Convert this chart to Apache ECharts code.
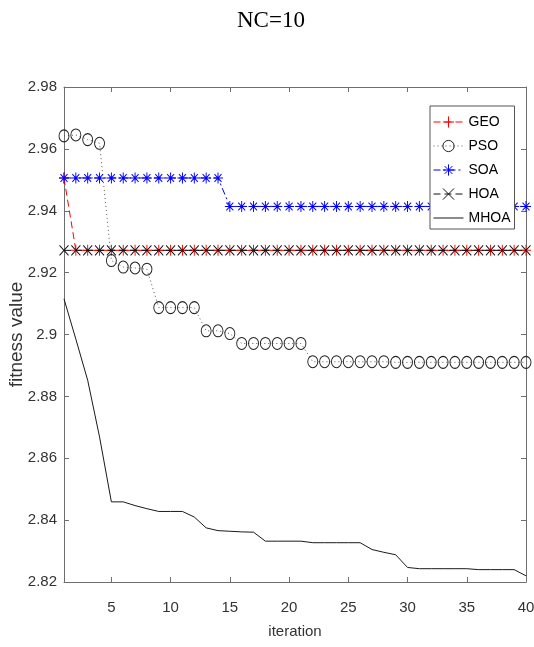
<!DOCTYPE html>
<html>
<head>
<meta charset="utf-8">
<script src="https://cdn.jsdelivr.net/npm/echarts@6/dist/echarts.min.js"></script>
<style>
html,body{margin:0;padding:0;background:#fff;}
#chart{width:534px;height:647px;}
</style>
</head>
<body>
<div id="chart"></div>
<script>
// ---- data ----
const iterations = [1,2,3,4,5,6,7,8,9,10,11,12,13,14,15,16,17,18,19,20,21,22,23,24,25,26,27,28,29,30,31,32,33,34,35,36,37,38,39,40];
const geo = [2.9506,2.9272,2.9272,2.9272,2.9272,2.9272,2.9272,2.9272,2.9272,2.9272,2.9272,2.9272,2.9272,2.9272,2.9272,2.9272,2.9272,2.9272,2.9272,2.9272,2.9272,2.9272,2.9272,2.9272,2.9272,2.9272,2.9272,2.9272,2.9272,2.9272,2.9272,2.9272,2.9272,2.9272,2.9272,2.9272,2.9272,2.9272,2.9272,2.9272];
const pso = [2.9642,2.9645,2.9630,2.9618,2.9239,2.9218,2.9215,2.9211,2.9087,2.9087,2.9087,2.9087,2.9012,2.9012,2.9003,2.8971,2.8971,2.8971,2.8971,2.8971,2.8971,2.8912,2.8912,2.8912,2.8912,2.8912,2.8912,2.8912,2.8910,2.8910,2.8910,2.8910,2.8910,2.8910,2.8910,2.8910,2.8910,2.8910,2.8910,2.8910];
const soa = [2.9506,2.9506,2.9506,2.9506,2.9506,2.9506,2.9506,2.9506,2.9506,2.9506,2.9506,2.9506,2.9506,2.9506,2.9414,2.9414,2.9414,2.9414,2.9414,2.9414,2.9414,2.9414,2.9414,2.9414,2.9414,2.9414,2.9414,2.9414,2.9414,2.9414,2.9414,2.9414,2.9414,2.9414,2.9414,2.9414,2.9414,2.9414,2.9414,2.9414];
const hoa = [2.9272,2.9272,2.9272,2.9272,2.9272,2.9272,2.9272,2.9272,2.9272,2.9272,2.9272,2.9272,2.9272,2.9272,2.9272,2.9272,2.9272,2.9272,2.9272,2.9272,2.9272,2.9272,2.9272,2.9272,2.9272,2.9272,2.9272,2.9272,2.9272,2.9272,2.9272,2.9272,2.9272,2.9272,2.9272,2.9272,2.9272,2.9272,2.9272,2.9272];
const mhoa = [2.9115,2.8985,2.8852,2.8669,2.8459,2.8459,2.8447,2.8437,2.8428,2.8428,2.8428,2.8410,2.8375,2.8366,2.8364,2.8362,2.8361,2.8332,2.8332,2.8332,2.8332,2.8327,2.8327,2.8327,2.8327,2.8327,2.8305,2.8296,2.8288,2.8247,2.8243,2.8243,2.8243,2.8243,2.8243,2.8240,2.8240,2.8240,2.8240,2.8220];
const xTicks = [5,10,15,20,25,30,35,40];
const yTicks = [2.82,2.84,2.86,2.88,2.9,2.92,2.94,2.96,2.98];
const seriesNames = ['GEO','PSO','SOA','HOA','MHOA'];
const titleText = 'NC=10';
const xName = 'iteration';
const yName = 'fitness value';

const pair = (ys) => ys.map((v, i) => [iterations[i], v]);

const SYM_PLUS = 'path://M0,5L10,5M5,0L5,10';
const SYM_X = 'path://M1,1L9,9M9,1L1,9';
const SYM_STAR = 'path://M5,0L5,10M0,5L10,5M1.5,1.5L8.5,8.5M8.5,1.5L1.5,8.5';

const SANS = "'Liberation Sans',Arial,sans-serif";
const axisColor = '#6e6e6e';

const chart = echarts.init(document.getElementById('chart'), null, {renderer: 'canvas'});
const baseAxis = {
  axisLine: {show: true, lineStyle: {color: axisColor, width: 1}},
  splitLine: {show: false}
};
chart.setOption({
  animation: false,
  backgroundColor: '#ffffff',
  title: {
    text: titleText, left: 237, top: 9, padding: 0,
    textStyle: {fontFamily: "'Liberation Serif','Times New Roman',serif", fontWeight: 'normal', fontSize: 23, color: '#000'}
  },
  grid: {left: 64, right: 8, top: 87, bottom: 65, containLabel: false, outerBoundsMode: 'none'},
  xAxis: [
    Object.assign({}, baseAxis, {
      type: 'value', min: 1, max: 40, position: 'bottom',
      axisTick: {show: true, inside: true, length: 5, customValues: xTicks, lineStyle: {color: axisColor}},
      axisLabel: {show: true, customValues: xTicks, margin: 18, fontFamily: SANS, fontSize: 15, color: '#333'},
      name: xName, nameLocation: 'middle', nameGap: 42, nameMoveOverlap: false,
      nameTextStyle: {fontFamily: SANS, fontSize: 15, color: '#333'}
    }),
    Object.assign({}, baseAxis, {
      type: 'value', min: 1, max: 40, position: 'top',
      axisTick: {show: true, inside: true, length: 5, customValues: xTicks, lineStyle: {color: axisColor}},
      axisLabel: {show: false}
    })
  ],
  yAxis: [
    Object.assign({}, baseAxis, {
      type: 'value', min: yTicks[0], max: yTicks[yTicks.length - 1], interval: 0.02, position: 'left',
      axisTick: {show: true, inside: true, length: 5, lineStyle: {color: axisColor}},
      axisLabel: {show: true, margin: 7, fontFamily: SANS, fontSize: 15, color: '#333',
        formatter: (v) => String(Math.round(v * 100) / 100)},
      name: yName, nameLocation: 'middle', nameGap: 38, nameMoveOverlap: false,
      nameTextStyle: {fontFamily: SANS, fontSize: 19, color: '#333'}
    }),
    Object.assign({}, baseAxis, {
      type: 'value', min: yTicks[0], max: yTicks[yTicks.length - 1], interval: 0.02, position: 'right',
      axisTick: {show: true, inside: true, length: 5, lineStyle: {color: axisColor}},
      axisLabel: {show: false}
    })
  ],
  legend: {
    data: seriesNames,
    orient: 'vertical',
    left: 430, top: 106, z: 20,
    padding: [9, 4, 4, 3],
    itemGap: 10,
    itemWidth: 30, itemHeight: 14,
    backgroundColor: '#ffffff',
    borderColor: '#555', borderWidth: 1,
    selectedMode: false,
    itemStyle: {borderWidth: 1},
    lineStyle: {width: 1},
    textStyle: {fontFamily: SANS, fontSize: 14, color: '#000'}
  },
  series: [
    {
      name: 'GEO', type: 'line', data: pair(geo), xAxisIndex: 0, yAxisIndex: 0,
      symbol: SYM_PLUS, symbolSize: [10, 11], showAllSymbol: true,
      lineStyle: {color: '#ff0000', width: 1, type: [7, 4]},
      itemStyle: {color: '#ff0000', borderColor: '#ff0000', borderWidth: 1},
      emphasis: {disabled: true}, z: 2
    },
    {
      name: 'PSO', type: 'line', data: pair(pso),
      symbol: 'circle', symbolSize: [10, 12], showAllSymbol: true,
      lineStyle: {color: '#555', width: 1, type: [1, 3]},
      itemStyle: {color: 'rgba(0,0,0,0)', borderColor: '#222', borderWidth: 1},
      emphasis: {disabled: true}, z: 3
    },
    {
      name: 'SOA', type: 'line', data: pair(soa),
      symbol: SYM_STAR, symbolSize: [10, 11], showAllSymbol: true,
      lineStyle: {color: '#0000ff', width: 1, type: [7, 3, 2, 3]},
      itemStyle: {color: '#0000ff', borderColor: '#0000ff', borderWidth: 1},
      emphasis: {disabled: true}, z: 4
    },
    {
      name: 'HOA', type: 'line', data: pair(hoa),
      symbol: SYM_X, symbolSize: [9, 10], showAllSymbol: true,
      lineStyle: {color: '#111', width: 1, type: [7, 4]},
      itemStyle: {color: '#111', borderColor: '#111', borderWidth: 1},
      emphasis: {disabled: true}, z: 5
    },
    {
      name: 'MHOA', type: 'line', data: pair(mhoa),
      symbol: 'none',
      lineStyle: {color: '#1a1a1a', width: 1, type: 'solid'},
      itemStyle: {color: 'rgba(0,0,0,0)', borderColor: 'rgba(0,0,0,0)', borderWidth: 0},
      emphasis: {disabled: true}, z: 6
    }
  ]
});
</script>
</body>
</html>
